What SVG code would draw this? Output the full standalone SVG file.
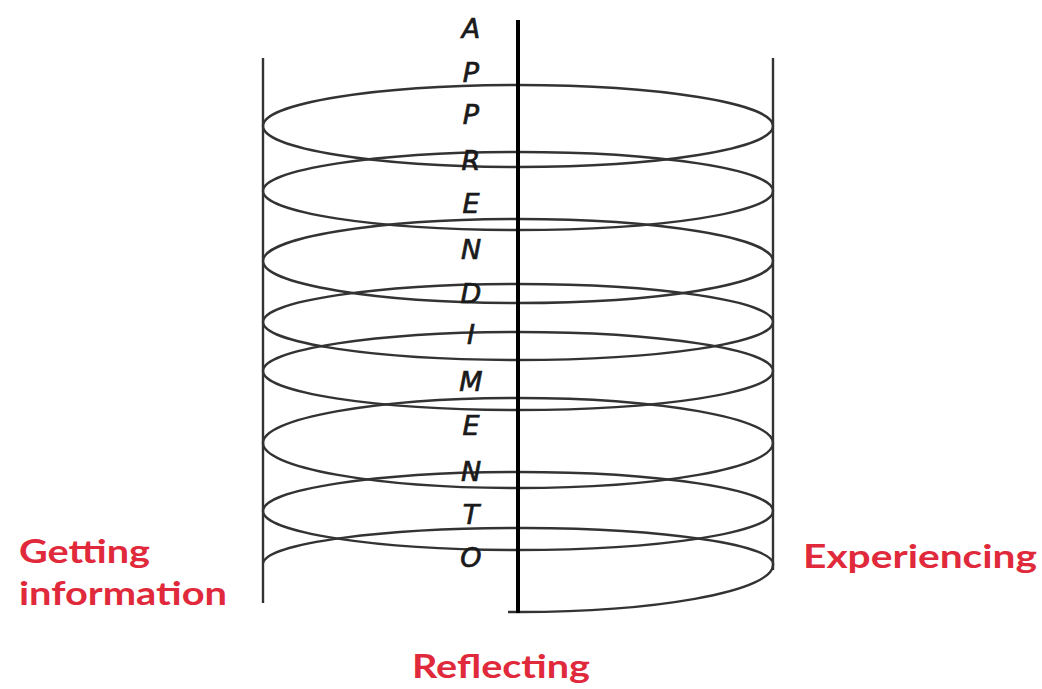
<svg xmlns="http://www.w3.org/2000/svg" width="1042" height="689" viewBox="0 0 1042 689">
  <style>
    .coil { fill: none; stroke: #333; stroke-width: 2.4; }
    .side { fill: none; stroke: #333; stroke-width: 2.4; }
    .axis { fill: none; stroke: #000; stroke-width: 4; }
    .letter { font-family: "DejaVu Sans", Verdana, sans-serif; font-style: italic; font-size: 27px; fill: #1a1a1a; stroke: #1a1a1a; stroke-width: 0.7; text-anchor: middle; }
    .label { font-family: Lato, "Open Sans", sans-serif; font-weight: bold; font-size: 32px; fill: #e02a3c; }
  </style>
  <rect width="1042" height="689" fill="#ffffff"/>
  <g id="coil">
    <line class="side" x1="263" y1="58" x2="263" y2="603"/>
    <line class="side" x1="773" y1="58" x2="773" y2="570"/>
    <ellipse class="coil" cx="518" cy="126" rx="255" ry="41"/>
    <ellipse class="coil" cx="518" cy="191" rx="255" ry="39"/>
    <ellipse class="coil" cx="518" cy="261" rx="255" ry="42"/>
    <ellipse class="coil" cx="518" cy="322" rx="255" ry="38"/>
    <ellipse class="coil" cx="518" cy="371" rx="255" ry="39"/>
    <ellipse class="coil" cx="518" cy="443" rx="255" ry="45"/>
    <ellipse class="coil" cx="518" cy="511" rx="255" ry="39"/>
    <path class="coil" d="M263 563 A255 36 0 0 1 773 565 A255 47 0 0 1 508 612"/>
    <line class="axis" x1="518" y1="20" x2="518" y2="613"/>
  </g>
  <g id="word">
    <text class="letter" x="471" y="38">A</text>
    <text class="letter" x="471" y="82">P</text>
    <text class="letter" x="471" y="124">P</text>
    <text class="letter" x="471" y="170">R</text>
    <text class="letter" x="471" y="213">E</text>
    <text class="letter" x="471" y="259">N</text>
    <text class="letter" x="471" y="303">D</text>
    <text class="letter" x="471" y="344">I</text>
    <text class="letter" x="471" y="391">M</text>
    <text class="letter" x="471" y="435">E</text>
    <text class="letter" x="471" y="481">N</text>
    <text class="letter" x="471" y="524">T</text>
    <text class="letter" x="471" y="567">O</text>
  </g>
  <g id="getting-information">
    <text class="label" x="19" y="563" textLength="131" lengthAdjust="spacingAndGlyphs">Getting</text>
    <text class="label" x="19" y="605" textLength="208" lengthAdjust="spacingAndGlyphs">information</text>
  </g>
  <g id="experiencing">
    <text class="label" x="803" y="568" textLength="234" lengthAdjust="spacingAndGlyphs">Experiencing</text>
  </g>
  <g id="reflecting">
    <text class="label" x="412" y="678" textLength="178" lengthAdjust="spacingAndGlyphs">Reflecting</text>
  </g>
</svg>
